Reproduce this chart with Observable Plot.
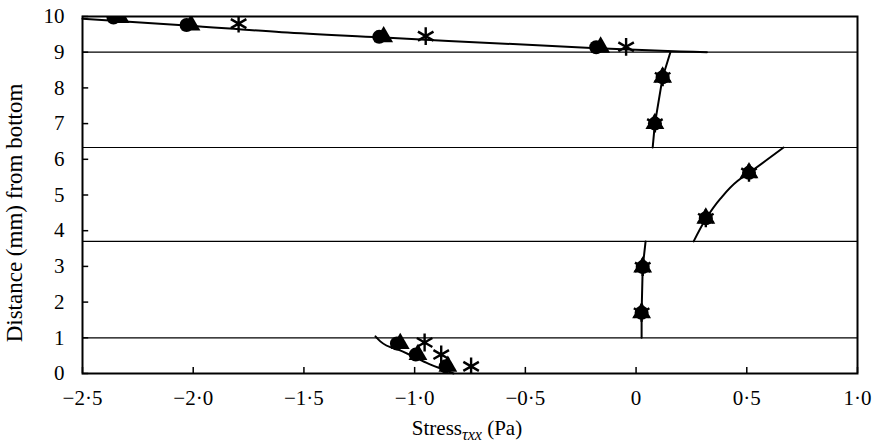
<!DOCTYPE html>
<html><head><meta charset="utf-8">
<script src="https://cdn.jsdelivr.net/npm/d3@7"></script>
<script src="https://cdn.jsdelivr.net/npm/@observablehq/plot@0.6"></script>
<style>
body{margin:0;background:#fff}
svg{font-family:"Liberation Serif","Times New Roman",serif}
</style>
</head><body><div id="chart"></div>
<script>
// ---- data ----
const xTicks = [-2.5, -2, -1.5, -1, -0.5, 0, 0.5, 1];
const yTicks = [0, 1, 2, 3, 4, 5, 6, 7, 8, 9, 10];
const layerBounds = [1, 3.7, 6.33, 9];

const circleDepth  = [9.97, 9.76, 9.43, 9.14, 8.3, 7.0, 5.62, 4.35, 2.98, 1.7, 0.84, 0.53, 0.2];
const circleStress = [-2.36, -2.03, -1.16, -0.18, 0.12, 0.085, 0.51, 0.315, 0.03, 0.025, -1.08, -0.995, -0.86];
const triangleDepth  = [9.97, 9.76, 9.43, 9.14, 8.3, 7.0, 5.62, 4.35, 2.98, 1.7, 0.84, 0.53, 0.2];
const triangleStress = [-2.33, -2.01, -1.14, -0.16, 0.12, 0.085, 0.51, 0.315, 0.03, 0.025, -1.065, -0.985, -0.85];
const asteriskDepth  = [9.8, 9.45, 9.15, 8.3, 7.0, 5.62, 4.35, 2.98, 1.7, 0.87, 0.53, 0.2];
const asteriskStress = [-1.795, -0.95, -0.045, 0.12, 0.085, 0.51, 0.315, 0.03, 0.025, -0.955, -0.88, -0.745];

const fitTopStress = [-2.5, -2.03, -1.6, -1.16, -0.18, 0.2, 0.32];
const fitTopDepth  = [9.94, 9.75, 9.56, 9.42, 9.11, 9.02, 9.0];
const fit2Stress = [0.155, 0.12, 0.085, 0.075];
const fit2Depth  = [9.0, 8.3, 7.0, 6.33];
const fit3Stress = [0.26, 0.315, 0.38, 0.458, 0.51, 0.666];
const fit3Depth  = [3.7, 4.33, 4.89, 5.39, 5.62, 6.33];
const fit4Stress = [0.043, 0.03, 0.025, 0.025];
const fit4Depth  = [3.7, 2.98, 1.7, 1.0];
const fit5Stress = [-1.177, -1.155, -1.055, -0.987, -0.928, -0.87, -0.824];
const fit5Depth  = [1.04, 0.9, 0.62, 0.42, 0.25, 0.11, 0];

// ---- tables built from the arrays ----
const pts = (xs, ys) => xs.map((x, i) => ({x, y: ys[i]}));
const circles = pts(circleStress, circleDepth);
const triangles = pts(triangleStress, triangleDepth);
const asterisks = pts(asteriskStress, asteriskDepth);
const fitTop = pts(fitTopStress, fitTopDepth);
const fit2 = pts(fit2Stress, fit2Depth);
const fit3 = pts(fit3Stress, fit3Depth);
const fit4 = pts(fit4Stress, fit4Depth);
const fit5 = pts(fit5Stress, fit5Depth);

const fmt = d => d === 0 ? "0" : (d < 0 ? "\u2212" : "") + Math.abs(d).toFixed(1).replace(".", "\u00B7");

const chart = Plot.plot({
  width: 872, height: 445,
  marginLeft: 82, marginRight: 15, marginTop: 16, marginBottom: 72,
  style: {fontFamily: '"Liberation Serif", serif', fontSize: "21px", color: "#000", background: "#fff"},
  x: {domain: [-2.5, 1]},
  y: {domain: [0, 10]},
  marks: [
    Plot.ruleY(layerBounds, {stroke: "#000", strokeWidth: 1.2}),
    Plot.line(fitTop, {x: "x", y: "y", curve: "monotone-x", stroke: "#000", strokeWidth: 2}),
    Plot.line(fit2, {x: "x", y: "y", curve: "linear", stroke: "#000", strokeWidth: 2}),
    Plot.line(fit3, {x: "x", y: "y", curve: "monotone-y", stroke: "#000", strokeWidth: 2}),
    Plot.line(fit4, {x: "x", y: "y", curve: "linear", stroke: "#000", strokeWidth: 2}),
    Plot.line(fit5, {x: "x", y: "y", curve: "monotone-x", stroke: "#000", strokeWidth: 2}),
    Plot.dot(triangles, {x: "x", y: "y", symbol: "triangle", r: 7, fill: "#000", clip: true}),
    Plot.dot(circles, {x: "x", y: "y", r: 7, fill: "#000", clip: true}),
    Plot.dot(asterisks, {x: "x", y: "y", symbol: "asterisk", r: 8.5, stroke: "#000", strokeWidth: 2.4, clip: true}),
    Plot.ruleX(xTicks, {x: d => d, y1: 0, y2: 0.17, stroke: "#000", strokeWidth: 1.5}),
    Plot.ruleY(yTicks, {y: d => d, x1: -2.5, x2: -2.472, stroke: "#000", strokeWidth: 1.5}),
    Plot.frame({stroke: "#000", strokeWidth: 2}),
    Plot.axisX({ticks: xTicks, tickSize: 0, tickPadding: 17, tickFormat: fmt, label: null, fontSize: 21}),
    Plot.axisY({ticks: yTicks, tickSize: 0, tickPadding: 18, label: null, fontSize: 21})
  ]
});

const svg = d3.select(chart);
svg.append("text")
  .attr("transform", "translate(22,213) rotate(-90)")
  .attr("text-anchor", "middle")
  .attr("fill", "#000")
  .style("font-size", "23px")
  .text("Distance (mm) from bottom");
const xt = svg.append("text")
  .attr("x", 467).attr("y", 435)
  .attr("text-anchor", "middle")
  .attr("fill", "#000")
  .style("font-size", "21px");
xt.append("tspan").text("Stress");
xt.append("tspan").attr("dy", 5).style("font-style", "italic").style("font-size", "16px").text("\u03C4xx");
xt.append("tspan").attr("dy", -5).text(" (Pa)");

document.getElementById("chart").appendChild(chart);
</script>
</body></html>
